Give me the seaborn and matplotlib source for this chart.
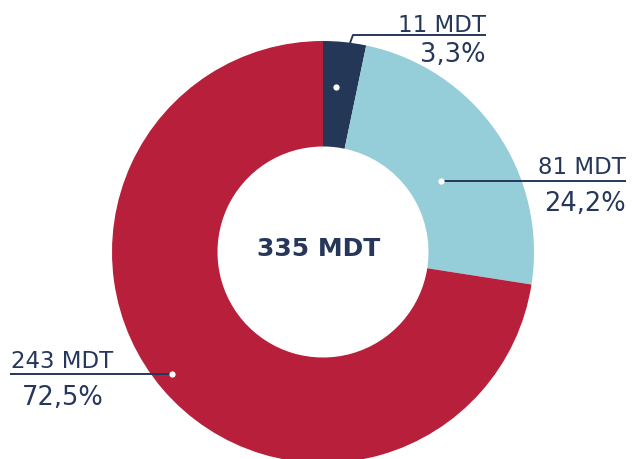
import matplotlib
matplotlib.use("Agg")
import matplotlib.pyplot as plt
import seaborn as sns

# data
segments = ["Segment A", "Segment B", "Segment C"]
amounts = [11, 81, 243]          # MDT
shares = ["3,3%", "24,2%", "72,5%"]
total_label = "335 MDT"
colors = ["#253757", "#95CDD9", "#B71F3B"]
text_color = "#26375A"

sns.set_theme(style="white")
plt.rcParams["font.family"] = ["DejaVu Sans"]

fig = plt.figure(figsize=(6.32, 4.59), dpi=100)
ax = fig.add_axes([0, 0, 1, 1])

cx, cy, radius = 323, 207, 211
ax.pie(amounts, colors=colors, startangle=90, counterclock=False,
       center=(cx, cy), radius=radius,
       wedgeprops=dict(width=radius * 0.5, linewidth=0))
ax.set_xlim(0, 632)
ax.set_ylim(0, 459)
ax.set_aspect("equal")
ax.axis("off")

ax.text(cx - 4, 203, total_label, ha="center", va="baseline", fontsize=18,
        fontweight="bold", color=text_color)

# label layout: dot position, leader line, text anchors
layout = [
    dict(dot=(336, 372), line=[(350, 416), (353, 424), (486, 424)],
         x=486, ha="right", y1=427, y2=397),
    dict(dot=(441, 278), line=[(441, 278), (626, 278)],
         x=626, ha="right", y1=285, y2=248),
    dict(dot=(172, 85), line=[(10, 85), (172, 85)],
         x=11, ha="left", y1=91, y2=54, x2=22),
]
for amt, share, lay in zip(amounts, shares, layout):
    xs, ys = zip(*lay["line"])
    ax.plot(xs, ys, color=text_color, lw=1.4, solid_capstyle="butt")
    ax.plot(*lay["dot"], marker="o", ms=4.5, color="white", mec="none")
    ax.text(lay["x"], lay["y1"], f"{amt} MDT", ha=lay["ha"], va="baseline",
            fontsize=16.5, color=text_color)
    ax.text(lay.get("x2", lay["x"]), lay["y2"], share, ha=lay["ha"],
            va="baseline", fontsize=18.5, color=text_color)

fig.savefig("out.png", dpi=100)
